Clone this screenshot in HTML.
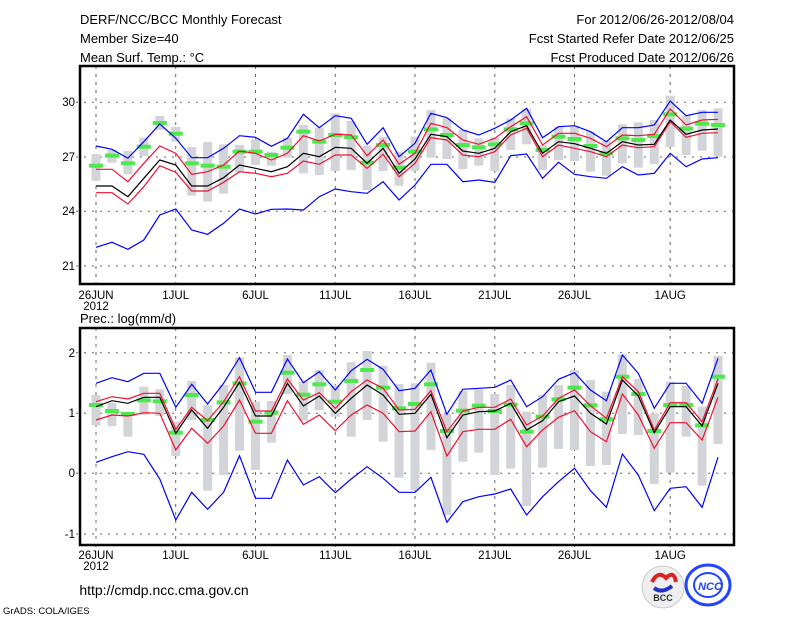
<!DOCTYPE html>
<html><head><meta charset="utf-8"><style>
body{margin:0;background:#fff}
svg{display:block}
text{font-family:"Liberation Sans",sans-serif;fill:#000}
</style></head><body>
<svg id="s" width="800" height="618" xmlns="http://www.w3.org/2000/svg">
<rect width="800" height="618" fill="#fff"/>
<text x="80" y="24" font-size="13">DERF/NCC/BCC Monthly Forecast</text>
<text x="80" y="43" font-size="13">Member Size=40</text>
<text x="80" y="62" font-size="13">Mean Surf. Temp.: °C</text>
<text x="734" y="24" font-size="13" text-anchor="end">For 2012/06/26-2012/08/04</text>
<text x="734" y="43" font-size="13" text-anchor="end">Fcst Started Refer Date 2012/06/25</text>
<text x="734" y="62" font-size="13" text-anchor="end">Fcst Produced Date 2012/06/26</text>
<text x="80" y="323" font-size="13">Prec.: log(mm/d)</text>
<g id="grid" stroke="#666" stroke-width="1"></g>
<g id="data"></g>
<rect x="80" y="66" width="654" height="218" fill="none" stroke="#000" stroke-width="2.5"/>
<rect x="80" y="328" width="654" height="217" fill="none" stroke="#000" stroke-width="2.5"/>
<g font-size="11.5" text-anchor="end">
<text x="75" y="106">30</text><text x="75" y="161">27</text><text x="75" y="215">24</text><text x="75" y="270">21</text>
<text x="75" y="357">2</text><text x="75" y="417">1</text><text x="75" y="477">0</text><text x="75" y="538">-1</text>
</g>
<g id="xl" font-size="11.5" text-anchor="middle"></g>
<text x="164" y="595" font-size="14" text-anchor="middle">http://cmdp.ncc.cma.gov.cn</text>
<text x="3" y="614" font-size="9.5">GrADS: COLA/IGES</text>
<circle cx="663" cy="587" r="21" fill="#eee" stroke="#ccc"/>
<path d="M652 582 q6 -12 14 -4 q8 -8 10 4" fill="none" stroke="#d22" stroke-width="4"/>
<path d="M654 588 q8 6 18 -2" fill="none" stroke="#23c" stroke-width="4"/>
<text x="663" y="601" font-size="9" font-weight="bold" text-anchor="middle" style="fill:#333">BCC</text>
<ellipse cx="708" cy="585" rx="22" ry="20" fill="none" stroke="#24f" stroke-width="3"/>
<ellipse cx="708" cy="585" rx="14" ry="12" fill="none" stroke="#24f" stroke-width="2"/>
<text x="710" y="590" font-size="11" font-weight="bold" font-style="italic" text-anchor="middle" style="fill:#24f">NCC</text>
</svg>
<script>
var NS="http://www.w3.org/2000/svg";
function el(p,t,a){var e=document.createElementNS(NS,t);for(var k in a)e.setAttribute(k,a[k]);p.appendChild(e);return e;}
var grid=document.getElementById('grid'),data=document.getElementById('data'),xl=document.getElementById('xl');
var vx=[96,175.7,255.5,335.3,415,494.8,574.5,670.2],vl=["26JUN","1JUL","6JUL","11JUL","16JUL","21JUL","26JUL","1AUG"];
[[66,284,[102.3,157,211.3,266],299],[328,545,[352.7,413.3,473.3,534],559]].forEach(function(p){
 vx.forEach(function(x,i){el(grid,'line',{x1:x,x2:x,y1:p[0],y2:p[1]+4,'stroke-dasharray':'3,5'});
  var t=el(xl,'text',{x:x,y:p[3]});t.textContent=vl[i];});
 var t=el(xl,'text',{x:96,y:p[3]+11});t.textContent="2012";
 p[2].forEach(function(y){el(grid,'line',{x1:76,x2:734,y1:y,y2:y,'stroke-dasharray':'2,6'});});
});
function X(i){return 96+15.95*i;}
function panel(oy,d){
 for(var i=0;i<40;i++){var a=oy+d.bt[i]/3,b=oy+d.bb[i]/3;el(data,'rect',{x:X(i)-4.5,y:a,width:9,height:b-a,fill:'#d3d4d8'});}
 for(var i=0;i<40;i++){el(data,'rect',{x:X(i)-7,y:oy+d.g[i]/3-2,width:14,height:4,fill:'#4de84d'});}
 [['bl','#0000ff'],['bu','#0000ff'],['rl','#ee1133'],['ru','#ee1133'],['bk','#000']].forEach(function(s){
  var pts=d[s[0]].map(function(v,i){return X(i).toFixed(1)+','+(oy+v/3).toFixed(1);}).join(' ');
  el(data,'polyline',{points:pts,fill:'none',stroke:s[1],'stroke-width':1.2});});
}
panel(85,{
bu:[183,193,220,170,117,160,218,218,190,152,157,184,160,88,128,92,100,178,128,215,175,85,98,135,150,130,105,70,158,125,122,140,170,128,128,120,48,92,82,82],
ru:[253,253,290,235,183,205,268,260,240,198,205,225,205,152,168,148,150,212,165,238,205,115,128,165,178,160,125,95,180,145,145,160,185,150,152,148,72,120,105,103],
bk:[303,303,335,280,225,240,303,303,278,240,250,260,245,205,215,187,190,235,190,265,222,148,155,198,205,190,140,122,205,170,176,190,205,170,180,178,105,148,135,132],
rl:[323,323,357,305,242,262,318,318,292,260,265,275,265,228,238,210,210,250,208,275,235,158,165,210,215,200,150,130,215,180,190,200,215,180,188,185,110,157,145,143],
bl:[487,472,493,465,390,372,435,448,415,372,387,373,372,375,335,312,320,325,290,345,300,238,238,290,285,292,212,207,280,232,268,275,280,245,270,265,205,245,222,218],
bt:[207,195,198,158,93,126,186,171,178,180,163,200,158,120,128,85,108,182,155,200,155,75,100,135,160,157,100,72,180,125,122,140,168,118,112,105,32,92,75,70],
bb:[287,233,268,213,135,170,332,350,326,262,240,242,218,265,270,258,255,315,258,302,258,218,222,252,242,258,195,178,255,225,228,260,272,235,248,237,186,210,197,215],
g:[242,212,235,185,114,146,235,242,245,200,200,210,188,140,170,150,157,233,180,248,200,133,150,180,187,178,133,115,195,155,162,183,205,160,165,153,88,131,116,120]});
panel(330,{
bu:[160,143,155,130,130,232,163,222,160,83,187,187,87,158,125,180,122,88,118,182,175,120,253,178,175,172,150,230,200,148,128,180,212,75,130,235,160,160,220,85],
ru:[215,200,207,190,190,298,232,272,215,140,243,243,147,210,188,235,185,150,175,240,238,182,305,243,232,232,207,285,258,205,180,227,265,140,185,300,218,218,275,147],
bk:[230,212,220,202,202,310,240,295,232,157,258,258,160,228,198,250,205,165,195,253,250,193,323,255,245,243,220,300,272,215,198,250,282,150,198,308,230,230,288,160],
rl:[270,255,258,248,250,360,295,340,288,210,310,310,212,283,255,302,255,225,250,305,303,245,378,305,298,298,268,350,300,262,242,305,335,192,255,355,278,278,330,202],
bl:[397,380,365,373,447,570,487,538,487,377,505,505,390,465,440,488,447,410,445,487,487,442,577,515,500,492,477,555,500,455,415,482,532,372,435,542,475,470,532,382],
bt:[195,218,248,170,178,275,153,225,165,82,215,213,75,155,120,165,97,63,108,162,160,98,252,183,178,192,165,245,195,165,120,150,185,73,147,250,155,168,230,78],
bb:[285,288,320,255,258,378,270,482,435,362,420,338,192,272,240,260,320,270,335,443,480,360,555,395,368,435,416,528,413,357,360,408,405,312,315,462,428,320,467,342],
g:[225,243,252,211,214,308,195,270,217,160,275,248,128,194,163,215,153,120,173,235,222,163,303,242,227,243,224,305,260,208,173,226,268,140,192,303,225,225,286,140]});
</script>
</body></html>
